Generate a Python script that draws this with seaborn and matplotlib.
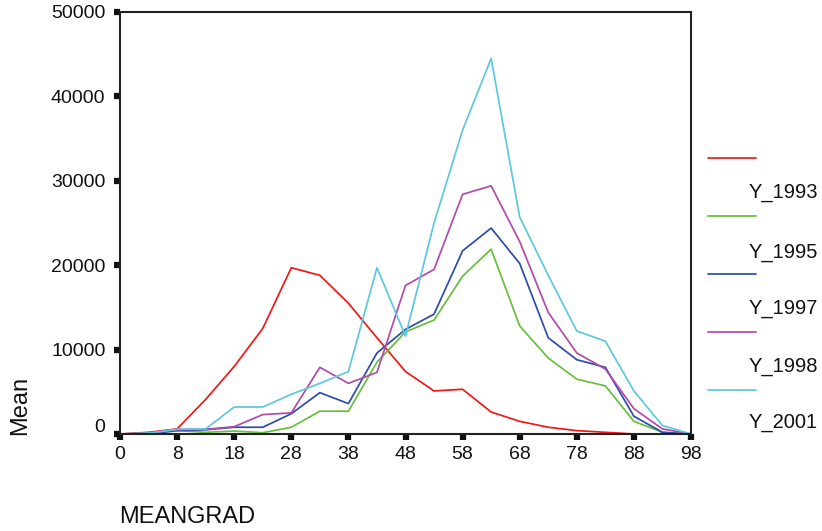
import matplotlib
matplotlib.use("Agg")
import matplotlib.pyplot as plt
from matplotlib.lines import Line2D
import matplotlib.transforms as mtransforms
import seaborn as sns
import pandas as pd

meangrad = [0, 3, 8, 13, 18, 23, 28, 33, 38, 43, 48, 53, 58, 63, 68, 73, 78, 83, 88, 93, 98]
tick_labels = ["0", "8", "18", "28", "38", "48", "58", "68", "78", "88", "98"]

series_names = ["", "Y_1993", "Y_1995", "Y_1997", "Y_1998", "Y_2001"]
red = [0, 200, 600, 4100, 8000, 12500, 19700, 18800, 15500, 11400, 7400, 5100, 5300, 2600, 1500, 800, 400, 200, 0, 0, 0]
green = [0, 100, 400, 200, 350, 150, 800, 2700, 2700, 8500, 12100, 13500, 18700, 21900, 12800, 9000, 6500, 5700, 1500, 200, 0]
blue = [0, 0, 400, 500, 800, 800, 2400, 4900, 3600, 9600, 12400, 14200, 21700, 24400, 20200, 11400, 8800, 7900, 2100, 200, 0]
magenta = [0, 100, 550, 550, 870, 2300, 2500, 7900, 6000, 7300, 17600, 19500, 28400, 29400, 22800, 14400, 9600, 7700, 3000, 600, 0]
cyan = [0, 100, 550, 600, 3200, 3200, 4700, 6000, 7400, 19700, 11600, 25000, 36000, 44500, 25700, 18800, 12200, 11000, 5100, 1000, 0]

colors = ["#f01818", "#66c03a", "#2b4ca8", "#b44aa8", "#5cc8dc"]
keys = ["s0", "s1", "s2", "s3", "s4"]
all_vals = [red, green, blue, magenta, cyan]

rows = []
for k, vals in zip(keys, all_vals):
    for i, v in enumerate(vals):
        rows.append({"pos": i, "Mean": v, "series": k})
df = pd.DataFrame(rows)

sns.set_style("white")
plt.rcParams["font.family"] = ["Liberation Sans", "DejaVu Sans"]

fig = plt.figure(figsize=(8.22, 5.31), dpi=100)
ax = fig.add_axes([120 / 822, 1 - 434 / 531, 571 / 822, 422 / 531])

sns.lineplot(data=df, x="pos", y="Mean", hue="series", palette=dict(zip(keys, colors)),
             linewidth=1.25, legend=False, ax=ax)

ax.set_xlim(0, len(meangrad) - 1)
ax.set_ylim(0, 50000)
ax.set_xticks(range(0, len(meangrad), 2))
ax.set_xticklabels(tick_labels)
ax.set_yticks([0, 10000, 20000, 30000, 40000, 50000])
ax.set_yticklabels(["0", "10000", "20000", "30000", "40000", "50000"])
ax.tick_params(axis="both", direction="out", length=4.5, width=4.5, color="#111111",
               labelsize=14, labelcolor="#111111", bottom=True, left=True)
ax.tick_params(axis="x", pad=4)
ax.tick_params(axis="y", pad=6)
# lift the "0" y-label slightly as in the reference
zero_lbl = ax.get_yticklabels()[0]
zero_lbl.set_transform(zero_lbl.get_transform() +
                       mtransforms.ScaledTranslation(0, 9 / 100, fig.dpi_scale_trans))
for s in ax.spines.values():
    s.set_linewidth(1.5)
    s.set_color("#222222")
    s.set_visible(True)
ax.set_xlabel("")
ax.set_ylabel("")

fig.text(20 / 822, 1 - 405 / 531, "Mean", rotation=90, ha="center", va="center",
         fontsize=17, color="#111111")
fig.text(119 / 822, 1 - 517 / 531, "MEANGRAD", ha="left", va="center",
         fontsize=17, color="#111111")

# legend (lines with labels offset as in reference)
line_y = [158, 216, 274, 332, 390]
label_y = [193, 252, 309, 366, 423]
for c, ly in zip(colors, line_y):
    fig.add_artist(Line2D([708 / 822, 756 / 822], [1 - ly / 531, 1 - ly / 531],
                          color=c, linewidth=1.25, transform=fig.transFigure))
for name, ty in zip(series_names[1:], label_y):
    fig.text(749 / 822, 1 - ty / 531, name, ha="left", va="center", fontsize=14.5,
             color="#111111")

fig.savefig("out.png", dpi=100)
